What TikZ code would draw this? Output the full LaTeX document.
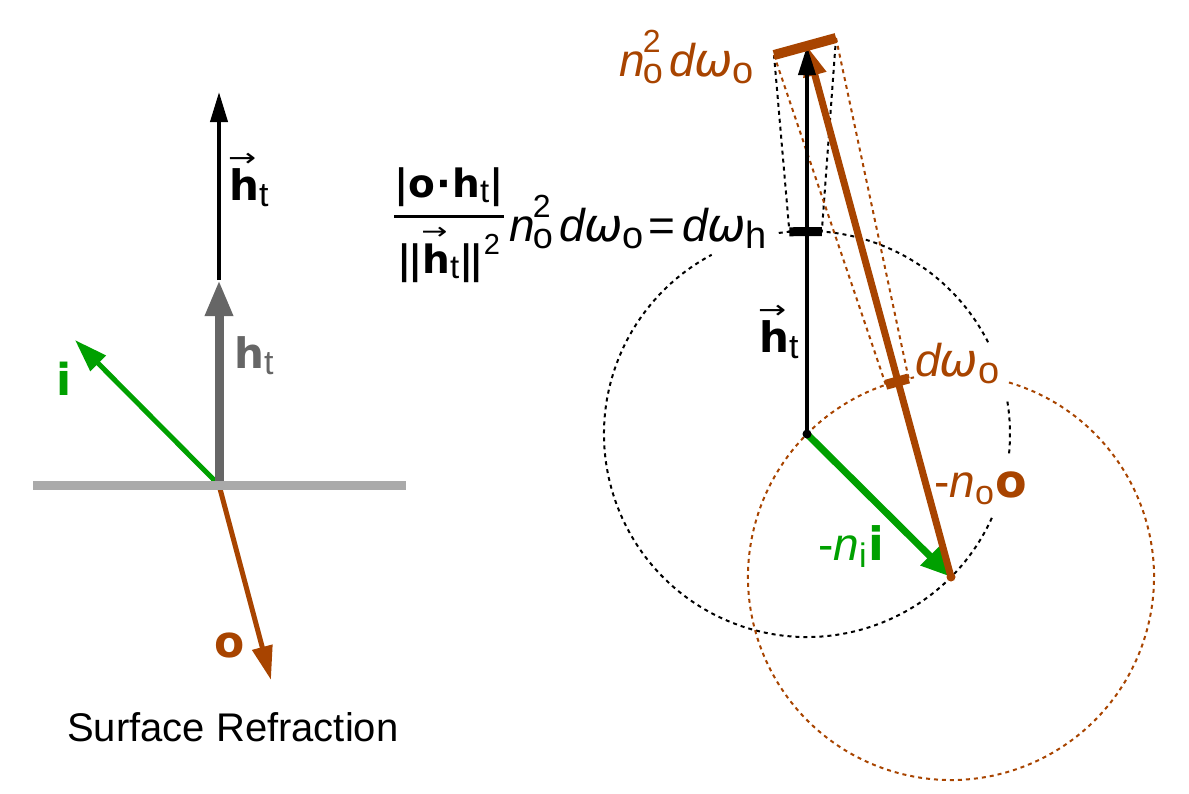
\documentclass[tikz,border=0pt]{standalone}
\usepackage{fontspec}
\usepackage{amsmath}
\usepackage{graphicx}
\setmainfont{Liberation Sans}
\newfontfamily\dvb{DejaVu Sans}
\usetikzlibrary{arrows.meta,calc}
\definecolor{brn}{RGB}{168,68,0}
\definecolor{grn}{RGB}{0,160,0}
\definecolor{lgray}{RGB}{170,170,170}
\definecolor{dgray}{RGB}{102,102,102}
\newcommand{\fs}[1]{\fontsize{#1}{#1}\selectfont}
\newcommand{\lo}[3]{\raisebox{-#1pt}{\fs{#2}#3}}
\newcommand{\hi}[3]{\raisebox{#1pt}{\fs{#2}#3}}
\newcommand{\bh}{{\dvb\bfseries\upshape h}}
\newcommand{\bo}{{\dvb\bfseries\upshape o}}
\newcommand{\bi}{{\dvb\bfseries\upshape i}}
\newcommand{\om}{{\dvb\itshape ω}}
\newcommand{\vbarr}{{\dvb\bfseries\upshape |}}
\newcommand{\dvbarr}{{\dvb\bfseries\upshape |\kern-4pt|}}
\newcommand{\vh}{\makebox[0pt][l]{\kern-1pt\raisebox{34pt}{\scalebox{0.8}[0.6]{\dvb →}}}\bh}
\begin{document}
\begin{tikzpicture}[x=1pt,y=-1pt,
  lbl/.style={inner sep=0pt, anchor=base west, font={\fs{42}}},
  mlbl/.style={inner sep=0pt, anchor=base west, font={\fs{46}}},
  dotblk/.style={black, line width=2pt, dash pattern=on 4pt off 4pt},
  dotbrn/.style={brn, line width=2pt, dash pattern=on 4pt off 4pt}]
\useasboundingbox (0,0) rectangle (1189,793);
% ---------- left diagram ----------
\coordinate (O) at (219,485);
\coordinate (Gl) at (33,485);
\coordinate (Gr) at (406,485);
\coordinate (Gt) at (219,280);
\coordinate (Bt) at (219,92);
\coordinate (It) at (75,340);
\coordinate (Ot) at (271,680);
\draw[grn, line width=5pt, -{Triangle[length=33pt,width=21pt]}] (O) -- (It);
\draw[brn, line width=5pt, -{Triangle[length=34pt,width=20pt]}] (O) -- (Ot);
\draw[dgray, line width=9pt, -{Triangle[length=36pt,width=26pt]}] (O) -- (Gt);
\draw[lgray, line width=9pt] (Gl) -- (Gr);
\draw[black, line width=4pt, -{Triangle[length=30pt,width=17pt]}] (Gt) -- (Bt);
\node[lbl] (lhlab) at (229,200) {\vh\lo{6}{34}{t}};
\node[lbl, text=dgray] (ghlab) at (234,368) {\bh\lo{6}{34}{t}};
\node[lbl, text=grn] (ilab) at (56,395) {\fs{44}\bi};
\node[lbl, text=brn] (olab) at (214,657) {\fs{44}\bo};
\node[inner sep=0pt, anchor=base west, font={\fs{40}}] (title) at (67,741.7) {Surface Refraction};
% ---------- right diagram ----------
\coordinate (H0) at (807,434);
\coordinate (P) at (951,577);
\coordinate (T) at (807,46);
\coordinate (CL) at (774,55);
\coordinate (CR) at (836,38);
% circles
\draw[dotblk] (H0) ++(24.4:203) arc[start angle=24.4, end angle=242, radius=203];
\draw[dotblk] (H0) ++(262:203) arc[start angle=262, end angle=333.8, radius=203];
\draw[dotblk] (H0) ++(-9.2:203) arc[start angle=-9.2, end angle=6.4, radius=203];
\draw[dotbrn] (P) ++(-73.4:203) arc[start angle=-73.4, end angle=259.5, radius=203];
% cone lines
\coordinate (hL) at ($(H0)!203pt!(CL)$);
\coordinate (hR) at ($(H0)!203pt!(CR)$);
\coordinate (oL) at ($(P)!203pt!(CL)$);
\coordinate (oR) at ($(P)!203pt!(CR)$);
\draw[dotblk] (CL) -- (hL);
\draw[dotblk] (CR) -- (hR);
\draw[dotbrn] (CL) -- (oL);
\draw[dotbrn] (CR) -- (oR);
% vectors
\draw[grn, line width=7pt, -{Triangle[length=30pt,width=25pt]}] (H0) -- (P);
\draw[brn, line width=7pt, -{Triangle[length=30pt,width=22pt]}] (P) -- (T);
\draw[black, line width=4pt, -{Triangle[length=29pt,width=17pt]}] (H0) -- (T);
\fill[black] (H0) circle[radius=4.5];
\fill[brn] (P) circle[radius=4.5];
% ticks and cap
\draw[black, line width=9pt] (hL) -- (hR);
\draw[brn, line width=10pt] (oL) -- (oR);
\draw[brn, line width=10pt] (CL) -- (CR);
% labels
\node[mlbl, text=brn] (toplab) at (619,76) {\itshape n\kern-2pt\rlap{\lo{7}{36}{\upshape o}}\hi{24}{32}{\upshape 2}\kern9pt d\kern-1pt\om\lo{7}{38}{\upshape o}};
\node[inner sep=0pt, font={\fs{39}}] (frac) at (449,225) {$\genfrac{}{}{3pt}{0}{\mbox{\vbarr\bo\kern1pt{\dvb\bfseries·}\kern1pt\bh\lo{5}{33}{t}\vbarr}}{\mbox{\dvbarr\vh\lo{5}{33}{t}\dvbarr\hi{19}{29}{2}}}$};
\node[mlbl] (eqr) at (509,241) {\itshape n\kern-2pt\rlap{\lo{7}{36}{\upshape o}}\hi{24}{32}{\upshape 2}\kern9pt d\kern-1pt\om\lo{7}{38}{\upshape o}\kern5pt\upshape =\kern7pt\itshape d\kern-1pt\om\lo{7}{38}{\upshape h}};
\node[lbl] (rhlab) at (759,352.7) {\vh\lo{6}{34}{t}};
\node[mlbl, text=brn] (dwlab) at (915,376) {\itshape d\kern-1pt\om\lo{7}{38}{\upshape o}};
\node[mlbl, text=brn] (nolab) at (934,497) {-\itshape n\lo{7}{34}{\upshape o}\kern1pt{\fs{46}\bo}};
\node[mlbl, text=grn] (nilab) at (818,560) {-\itshape n\lo{7}{34}{\upshape i}\kern2pt{\fs{46}\bi}};
\end{tikzpicture}
\end{document}
